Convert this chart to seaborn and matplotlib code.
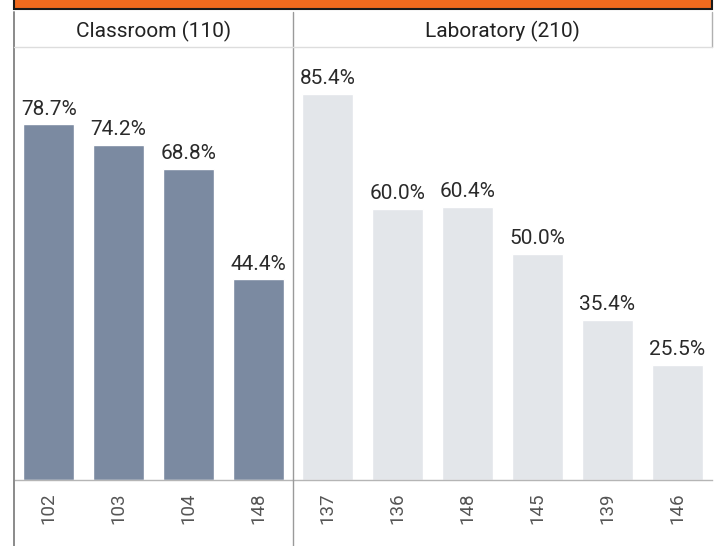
import numpy as np
import pandas as pd
import matplotlib
matplotlib.use("Agg")
import matplotlib.pyplot as plt
from matplotlib.lines import Line2D
from matplotlib.patches import Rectangle
import seaborn as sns

# data
classroom_rooms = ["102", "103", "104", "148"]
classroom_pct = [78.7, 74.2, 68.8, 44.4]
lab_rooms = ["137", "136", "148", "145", "139", "146"]
lab_pct = [85.4, 60.0, 60.4, 50.0, 35.4, 25.5]
panel_titles = ["Classroom (110)", "Laboratory (210)"]

sns.set_theme(style="white")
plt.rcParams["font.family"] = ["Roboto", "DejaVu Sans"]

W, H = 721, 546


def fx(px):
    return px / W


def fy(py):
    return 1 - py / H


fig = plt.figure(figsize=(W / 100, H / 100), dpi=100)

dark = "#7b8aa1"
light = "#e3e6ea"
top_px, base_px = 47, 480
ymax = (base_px - top_px) / 4.52

panels = [
    (pd.DataFrame({"room": classroom_rooms, "pct": classroom_pct}), dark, 14, 293),
    (pd.DataFrame({"room": lab_rooms, "pct": lab_pct}), light, 293, 712),
]

for (df, col, x0, x1), title in zip(panels, panel_titles):
    ax = fig.add_axes([fx(x0), fy(base_px), fx(x1 - x0), (base_px - top_px) / H])
    sns.barplot(data=df, x="room", y="pct", order=list(df["room"]), color=col,
                saturation=1, width=0.73, ax=ax)
    ax.bar_label(ax.containers[0], labels=[f"{v:.1f}%" for v in df["pct"]],
                 padding=4, fontsize=15, color="#2a2a2a")
    ax.set_xlim(-0.5, len(df) - 0.5)
    ax.set_ylim(0, ymax)
    ax.set_yticks([])
    ax.set_xlabel("")
    ax.set_ylabel("")
    ax.tick_params(axis="x", length=0, pad=9, labelsize=13.5, labelrotation=90,
                   labelcolor="#555555")
    for s in ["top", "right", "left"]:
        ax.spines[s].set_visible(False)
    ax.spines["bottom"].set_color("#b5b5b5")
    ax.spines["bottom"].set_linewidth(1.0)
    fig.text(fx((x0 + x1) / 2), fy(31), title, ha="center", va="center",
             fontsize=15, color="#222222")

# orange title band (text cut off in the source)
fig.add_artist(Rectangle((fx(14), fy(9)), fx(712 - 14), 9 / H + 0.01,
                         transform=fig.transFigure, facecolor="#f06a1e",
                         edgecolor="#1a1a1a", linewidth=1.5, clip_on=False))

# frame lines
def vline(x, y0, y1, color, lw=1.0):
    fig.add_artist(Line2D([fx(x), fx(x)], [fy(y0), fy(y1)], color=color,
                          linewidth=lw, transform=fig.transFigure))


vline(14, 12, 546, "#8a8a8a", 1.4)
vline(293, 12, 546, "#9a9a9a", 1.0)
vline(712, 12, 47, "#b0b0b0", 1.0)
fig.add_artist(Line2D([fx(14), fx(712)], [fy(47), fy(47)], color="#dddddd",
                      linewidth=1.0, transform=fig.transFigure))

fig.savefig("out.png", dpi=100)
